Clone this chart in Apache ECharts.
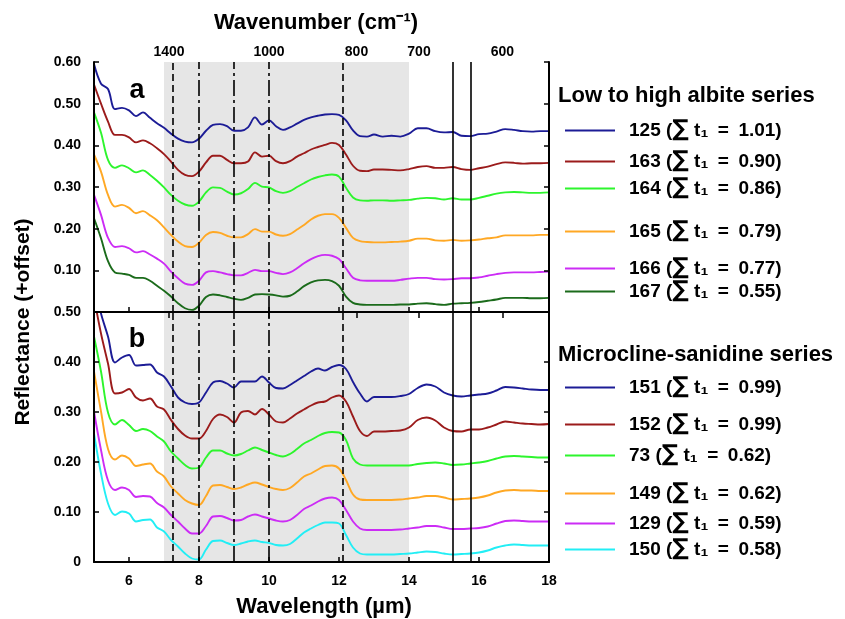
<!DOCTYPE html>
<html>
<head>
<meta charset="utf-8">
<script src="https://cdn.jsdelivr.net/npm/echarts@6/dist/echarts.min.js"></script>
<style>
  html, body { margin: 0; padding: 0; background: #fff; }
  #chart { width: 845px; height: 619px; }
</style>
</head>
<body>
<div id="chart"></div>
<script>
// wavelength grid (um)
var wavelength = [5.0, 5.2, 5.4, 5.6, 5.8, 6.0, 6.2, 6.4, 6.6, 6.8, 7.0, 7.2, 7.4, 7.6, 7.8, 8.0, 8.2, 8.4, 8.6, 8.8,
  9.0, 9.2, 9.4, 9.6, 9.8, 10.0, 10.2, 10.4, 10.6, 10.8, 11.0, 11.2, 11.4, 11.6, 11.8, 12.0, 12.2, 12.4, 12.6, 12.8, 13.0,
  13.25, 13.5, 13.75, 14.0, 14.25, 14.5, 14.75, 15.0, 15.25, 15.5, 15.75, 16.0, 16.25, 16.5, 16.75, 17.0, 17.25, 17.5, 17.75, 18.0];

// (a) low to high albite series
var s125 = [0.595, 0.548, 0.535, 0.487, 0.490, 0.484, 0.470, 0.479, 0.466, 0.453, 0.442, 0.428, 0.416, 0.409, 0.407, 0.416, 0.435, 0.449, 0.451, 0.446,
  0.435, 0.435, 0.443, 0.467, 0.450, 0.460, 0.446, 0.437, 0.443, 0.452, 0.461, 0.467, 0.471, 0.474, 0.475, 0.473, 0.460, 0.436, 0.422, 0.421, 0.426,
  0.421, 0.423, 0.421, 0.428, 0.441, 0.441, 0.434, 0.431, 0.432, 0.423, 0.422, 0.427, 0.428, 0.433, 0.439, 0.437, 0.434, 0.433, 0.434, 0.434];
var s163 = [0.546, 0.500, 0.457, 0.425, 0.425, 0.419, 0.407, 0.412, 0.405, 0.393, 0.379, 0.361, 0.341, 0.329, 0.326, 0.337, 0.359, 0.375, 0.375, 0.365,
  0.357, 0.357, 0.361, 0.383, 0.373, 0.375, 0.362, 0.357, 0.362, 0.373, 0.381, 0.390, 0.396, 0.401, 0.406, 0.401, 0.378, 0.351, 0.339, 0.338, 0.342,
  0.342, 0.341, 0.340, 0.343, 0.348, 0.350, 0.346, 0.346, 0.348, 0.343, 0.341, 0.345, 0.349, 0.355, 0.359, 0.358, 0.356, 0.357, 0.357, 0.358];
var s164 = [0.479, 0.430, 0.365, 0.346, 0.352, 0.345, 0.335, 0.340, 0.329, 0.315, 0.299, 0.281, 0.267, 0.258, 0.255, 0.265, 0.287, 0.299, 0.298, 0.289,
  0.282, 0.285, 0.295, 0.310, 0.301, 0.299, 0.290, 0.286, 0.290, 0.300, 0.309, 0.318, 0.324, 0.328, 0.330, 0.325, 0.298, 0.275, 0.268, 0.267, 0.268,
  0.268, 0.267, 0.268, 0.269, 0.272, 0.274, 0.273, 0.270, 0.273, 0.270, 0.270, 0.274, 0.279, 0.284, 0.287, 0.288, 0.287, 0.286, 0.286, 0.287];
var s165 = [0.378, 0.337, 0.281, 0.253, 0.257, 0.250, 0.237, 0.242, 0.232, 0.220, 0.203, 0.185, 0.169, 0.158, 0.156, 0.166, 0.185, 0.192, 0.190, 0.183,
  0.179, 0.179, 0.187, 0.199, 0.193, 0.193, 0.186, 0.183, 0.187, 0.198, 0.209, 0.222, 0.231, 0.235, 0.235, 0.226, 0.202, 0.178, 0.170, 0.168, 0.167,
  0.167, 0.168, 0.169, 0.171, 0.176, 0.176, 0.172, 0.171, 0.173, 0.171, 0.172, 0.174, 0.177, 0.179, 0.184, 0.184, 0.184, 0.184, 0.185, 0.185];
var s166 = [0.281, 0.233, 0.178, 0.156, 0.158, 0.153, 0.143, 0.146, 0.138, 0.128, 0.116, 0.097, 0.081, 0.068, 0.065, 0.075, 0.095, 0.098, 0.095, 0.091,
  0.088, 0.088, 0.094, 0.101, 0.098, 0.098, 0.094, 0.091, 0.095, 0.105, 0.117, 0.127, 0.134, 0.137, 0.135, 0.127, 0.105, 0.082, 0.076, 0.075, 0.075,
  0.075, 0.075, 0.077, 0.080, 0.082, 0.082, 0.079, 0.078, 0.079, 0.081, 0.081, 0.083, 0.087, 0.091, 0.094, 0.095, 0.095, 0.095, 0.096, 0.097];
var s167 = [0.225, 0.177, 0.122, 0.095, 0.092, 0.089, 0.082, 0.082, 0.075, 0.063, 0.051, 0.037, 0.021, 0.009, 0.005, 0.015, 0.036, 0.042, 0.040, 0.036,
  0.032, 0.029, 0.034, 0.042, 0.043, 0.042, 0.040, 0.037, 0.039, 0.049, 0.062, 0.071, 0.076, 0.077, 0.074, 0.063, 0.037, 0.022, 0.018, 0.017, 0.017,
  0.017, 0.017, 0.018, 0.018, 0.020, 0.021, 0.019, 0.017, 0.020, 0.021, 0.022, 0.024, 0.027, 0.030, 0.034, 0.034, 0.034, 0.033, 0.033, 0.034];

// (b) microcline-sanidine series
var s151 = [0.560, 0.497, 0.451, 0.399, 0.409, 0.414, 0.393, 0.394, 0.395, 0.379, 0.371, 0.351, 0.329, 0.319, 0.316, 0.319, 0.339, 0.359, 0.362, 0.357,
  0.349, 0.361, 0.361, 0.361, 0.371, 0.359, 0.348, 0.347, 0.354, 0.363, 0.372, 0.381, 0.387, 0.383, 0.390, 0.394, 0.386, 0.360, 0.337, 0.321, 0.330,
  0.330, 0.330, 0.332, 0.336, 0.348, 0.355, 0.351, 0.339, 0.333, 0.331, 0.333, 0.335, 0.337, 0.343, 0.350, 0.349, 0.347, 0.345, 0.344, 0.344];
var s152 = [0.530, 0.457, 0.397, 0.337, 0.339, 0.346, 0.329, 0.323, 0.327, 0.311, 0.305, 0.284, 0.266, 0.253, 0.247, 0.247, 0.262, 0.286, 0.295, 0.290,
  0.279, 0.299, 0.302, 0.295, 0.306, 0.295, 0.281, 0.279, 0.287, 0.297, 0.305, 0.313, 0.319, 0.321, 0.329, 0.333, 0.321, 0.291, 0.262, 0.252, 0.261,
  0.261, 0.262, 0.263, 0.269, 0.284, 0.289, 0.283, 0.269, 0.262, 0.261, 0.265, 0.265, 0.269, 0.275, 0.281, 0.279, 0.277, 0.276, 0.275, 0.276];
var s73 = [0.451, 0.381, 0.299, 0.275, 0.284, 0.274, 0.262, 0.266, 0.262, 0.251, 0.241, 0.221, 0.207, 0.194, 0.187, 0.189, 0.209, 0.223, 0.223, 0.217,
  0.213, 0.216, 0.223, 0.229, 0.224, 0.219, 0.214, 0.211, 0.216, 0.226, 0.237, 0.244, 0.252, 0.258, 0.260, 0.259, 0.244, 0.207, 0.195, 0.193, 0.193,
  0.193, 0.193, 0.193, 0.193, 0.196, 0.198, 0.199, 0.197, 0.194, 0.195, 0.197, 0.199, 0.202, 0.207, 0.211, 0.212, 0.211, 0.210, 0.209, 0.209];
var s149 = [0.381, 0.301, 0.226, 0.205, 0.213, 0.207, 0.192, 0.195, 0.197, 0.181, 0.171, 0.151, 0.137, 0.124, 0.117, 0.114, 0.132, 0.153, 0.154, 0.150,
  0.146, 0.149, 0.155, 0.159, 0.155, 0.150, 0.146, 0.144, 0.148, 0.159, 0.171, 0.177, 0.185, 0.192, 0.193, 0.187, 0.164, 0.135, 0.125, 0.124, 0.124,
  0.124, 0.124, 0.125, 0.127, 0.129, 0.132, 0.132, 0.129, 0.125, 0.126, 0.127, 0.129, 0.133, 0.139, 0.143, 0.144, 0.143, 0.143, 0.142, 0.142];
var s129 = [0.301, 0.224, 0.163, 0.144, 0.149, 0.144, 0.130, 0.132, 0.131, 0.118, 0.109, 0.094, 0.081, 0.067, 0.057, 0.057, 0.072, 0.091, 0.092, 0.088,
  0.083, 0.084, 0.091, 0.095, 0.091, 0.087, 0.083, 0.081, 0.084, 0.094, 0.106, 0.113, 0.121, 0.127, 0.129, 0.124, 0.104, 0.081, 0.067, 0.064, 0.064,
  0.064, 0.064, 0.065, 0.067, 0.069, 0.072, 0.072, 0.069, 0.066, 0.066, 0.067, 0.068, 0.071, 0.077, 0.082, 0.083, 0.082, 0.081, 0.081, 0.081];
var s150 = [0.257, 0.177, 0.117, 0.094, 0.101, 0.097, 0.081, 0.084, 0.085, 0.069, 0.061, 0.044, 0.031, 0.017, 0.007, 0.005, 0.025, 0.042, 0.043, 0.038,
  0.034, 0.037, 0.041, 0.043, 0.040, 0.038, 0.034, 0.033, 0.036, 0.047, 0.059, 0.067, 0.074, 0.079, 0.079, 0.077, 0.054, 0.029, 0.017, 0.015, 0.015,
  0.015, 0.015, 0.016, 0.017, 0.019, 0.021, 0.020, 0.017, 0.015, 0.016, 0.017, 0.019, 0.023, 0.029, 0.033, 0.035, 0.034, 0.033, 0.033, 0.033];

var albiteIds = ['125', '163', '164', '165', '166', '167'];
var albiteT = ['1.01', '0.90', '0.86', '0.79', '0.77', '0.55'];
var micIds = ['151', '152', '73', '149', '129', '150'];
var micT = ['0.99', '0.99', '0.62', '0.62', '0.59', '0.58'];

var wlTicks = [6, 8, 10, 12, 14, 16, 18];
var wnTicks = [1400, 1000, 800, 700, 600];

var colors = ['#1c1c96', '#9b1b1b', '#2df52d', '#ffa824', '#cc2cf5', '#1b6b1b'];
var colorsB = ['#1c1c96', '#9b1b1b', '#2df52d', '#ffa824', '#cc2cf5', '#22eef5'];

var FONT = '"Liberation Sans", Arial, Helvetica, sans-serif';

var chart = echarts.init(document.getElementById('chart'));

var tMap = {};
albiteIds.forEach(function (id, i) { tMap[id] = albiteT[i]; });
micIds.forEach(function (id, i) { tMap[id] = micT[i]; });

function lineSeries(name, vals, color, panel) {
  return {
    name: name,
    type: 'line',
    xAxisIndex: panel === 0 ? 0 : 2,
    yAxisIndex: panel === 0 ? 0 : 2,
    data: wavelength.map(function (w, i) { return [w, vals[i]]; }),
    showSymbol: false,
    smooth: 0.35,
    silent: true,
    z: 3,
    lineStyle: { width: 1.9, color: color },
    itemStyle: { color: color }
  };
}

var dashed = [7, 4];
var dashDot = [16, 4, 3, 4];
function guideSeries(panel) {
  return {
    type: 'line',
    xAxisIndex: panel === 0 ? 0 : 2,
    yAxisIndex: panel === 0 ? 0 : 2,
    data: [],
    silent: true,
    z: 1,
    markArea: {
      silent: true,
      itemStyle: { color: '#e6e6e6' },
      data: [[{ xAxis: 7 }, { xAxis: 14 }]]
    },
    markLine: {
      silent: true,
      symbol: ['none', 'none'],
      label: { show: false },
      lineStyle: { color: '#000', width: 1.6 },
      data: [
        { xAxis: 7.26, lineStyle: { type: dashed, color: '#000', width: 1.6 } },
        { xAxis: 8, lineStyle: { type: dashDot, color: '#000', width: 1.6 } },
        { xAxis: 9, lineStyle: { type: dashDot, color: '#000', width: 1.6 } },
        { xAxis: 10, lineStyle: { type: dashDot, color: '#000', width: 1.6 } },
        { xAxis: 12.1, lineStyle: { type: dashed, color: '#000', width: 1.6 } },
        { xAxis: 15.25, lineStyle: { type: 'solid', color: '#000', width: 1.6 } },
        { xAxis: 15.75, lineStyle: { type: 'solid', color: '#000', width: 1.6 } }
      ]
    }
  };
}

var series = [guideSeries(0), guideSeries(1)];
[s125, s163, s164, s165, s166, s167].forEach(function (v, i) {
  series.push(lineSeries(albiteIds[i], v, colors[i], 0));
});
[s151, s152, s73, s149, s129, s150].forEach(function (v, i) {
  series.push(lineSeries(micIds[i], v, colorsB[i], 1));
});

var axisLine = { show: true, lineStyle: { color: '#000', width: 2 } };
var labelStyle = { color: '#000', fontFamily: FONT, fontWeight: 'bold', fontSize: 14 };

function yAxis(grid, max, side) {
  return {
    type: 'value', gridIndex: grid, position: side, min: 0, max: max, interval: 0.1, z: 10,
    axisLine: axisLine,
    axisTick: { show: true, inside: true, length: 5, lineStyle: { color: '#000', width: 1.5 } },
    splitLine: { show: false },
    axisLabel: side === 'left' ? Object.assign({
      show: true, margin: 13,
      formatter: function (v) {
        if (Math.abs(v) < 1e-9) return grid === 0 ? '' : '0';
        return v.toFixed(2);
      }
    }, labelStyle) : { show: false }
  };
}

var legendY = [130, 161, 188, 231, 268, 291, 387, 424, 455, 493, 523, 549];
var legends = albiteIds.concat(micIds).map(function (id, i) {
  return {
    data: [id],
    left: 565,
    top: legendY[i] - 11,
    padding: 0,
    icon: 'rect',
    itemWidth: 50,
    itemHeight: 2,
    selectedMode: false,
    formatter: function (name) {
      return name + ' ({s|\u2211} t\u2081\u2002=\u2002' + tMap[name] + ')';
    },
    textStyle: {
      color: '#000', fontFamily: FONT, fontWeight: 'bold', fontSize: 19, lineHeight: 22,
      padding: [0, 0, 0, 9],
      rich: { s: { fontSize: 23, lineHeight: 22, fontFamily: '"DejaVu Sans", sans-serif', color: '#000' } }
    }
  };
});

var option = {
  animation: false,
  backgroundColor: '#fff',
  grid: [
    { left: 94, top: 62, width: 455, height: 250, outerBoundsMode: 'none', containLabel: false },
    { left: 94, top: 312, width: 455, height: 250, outerBoundsMode: 'none', containLabel: false }
  ],
  xAxis: [
    {
      type: 'value', gridIndex: 0, position: 'bottom', min: 5, max: 18, z: 10,
      axisLine: axisLine,
      axisTick: { show: true, inside: true, length: 5, customValues: wlTicks, lineStyle: { color: '#000', width: 1.5 } },
      axisLabel: { show: false },
      splitLine: { show: false }
    },
    {
      type: 'value', gridIndex: 0, position: 'top', min: 5, max: 18, z: 10,
      axisLine: axisLine,
      axisTick: {
        show: true, inside: true, length: 6, lineStyle: { color: '#000', width: 1.5 },
        customValues: wnTicks.map(function (n) { return 10000 / n; })
      },
      axisLabel: Object.assign({
        show: true, margin: 3,
        customValues: wnTicks.map(function (n) { return 10000 / n; }),
        formatter: function (v) { return String(Math.round(10000 / v)); }
      }, labelStyle),
      splitLine: { show: false }
    },
    {
      type: 'value', gridIndex: 1, position: 'bottom', min: 5, max: 18, z: 10,
      axisLine: axisLine,
      axisTick: { show: true, inside: true, length: 5, customValues: wlTicks, lineStyle: { color: '#000', width: 1.5 } },
      axisLabel: Object.assign({ show: true, margin: 12, customValues: wlTicks }, labelStyle),
      splitLine: { show: false }
    }
  ],
  yAxis: [
    yAxis(0, 0.6, 'left'),
    yAxis(0, 0.6, 'right'),
    yAxis(1, 0.5, 'left'),
    yAxis(1, 0.5, 'right')
  ],
  legend: legends,
  graphic: [
    { type: 'text', x: 316, y: 23, style: { text: 'Wavenumber (cm\u207B\u00B9)', align: 'center', verticalAlign: 'middle', font: 'bold 22px ' + FONT, fill: '#000' } },
    { type: 'text', x: 324, y: 607, style: { text: 'Wavelength (\u00B5m)', align: 'center', verticalAlign: 'middle', font: 'bold 22px ' + FONT, fill: '#000' } },
    { type: 'text', x: 23, y: 322, rotation: Math.PI / 2, style: { text: 'Reflectance (+offset)', align: 'center', verticalAlign: 'middle', font: 'bold 21px ' + FONT, fill: '#000' } },
    { type: 'text', x: 137, y: 91, style: { text: 'a', align: 'center', verticalAlign: 'middle', font: 'bold 27px ' + FONT, fill: '#000' } },
    { type: 'text', x: 137, y: 340, style: { text: 'b', align: 'center', verticalAlign: 'middle', font: 'bold 27px ' + FONT, fill: '#000' } },
    { type: 'text', x: 558, y: 96, style: { text: 'Low to high albite series', align: 'left', verticalAlign: 'middle', font: 'bold 22px ' + FONT, fill: '#000' } },
    { type: 'text', x: 558, y: 355, style: { text: 'Microcline-sanidine series', align: 'left', verticalAlign: 'middle', font: 'bold 22px ' + FONT, fill: '#000' } }
  ],
  series: series
};

chart.setOption(option);
</script>
</body>
</html>
